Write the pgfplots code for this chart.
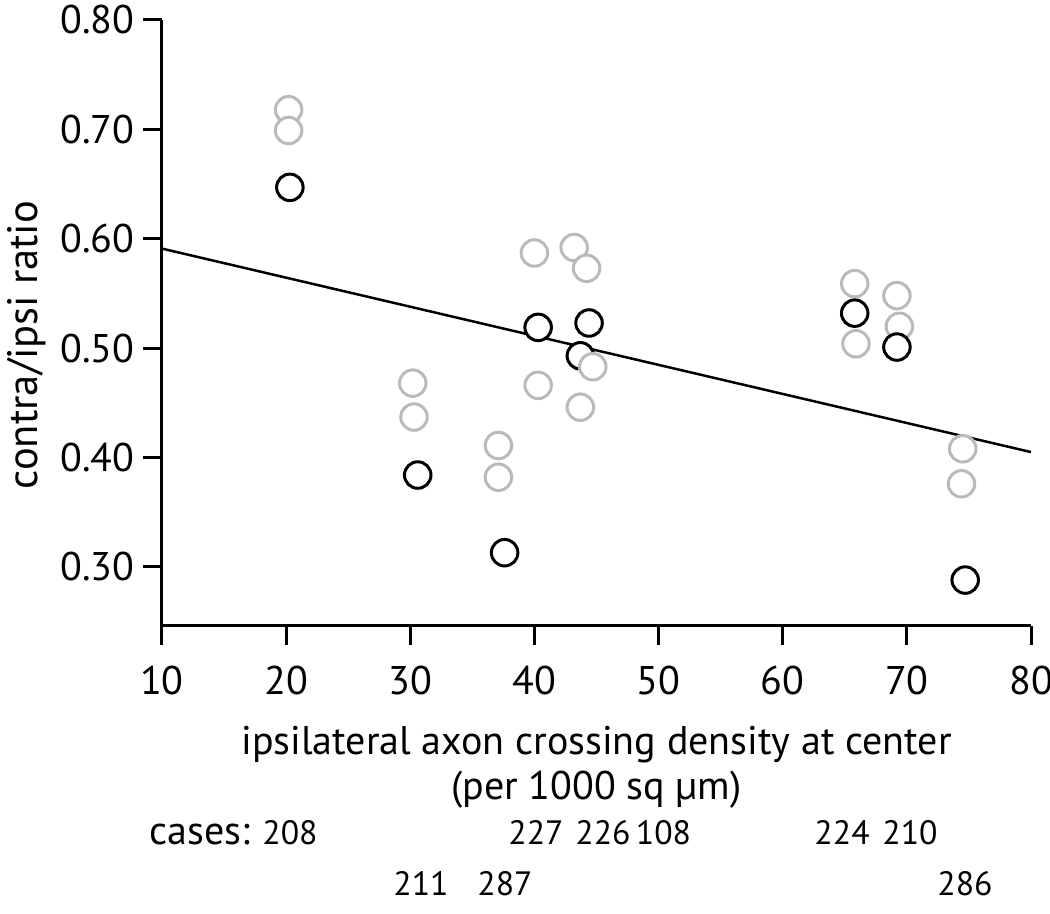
\documentclass[border=0pt]{standalone}
\usepackage{fontspec}
\setmainfont{PT Sans}
\usepackage{pgfplots}
\usepackage{pgfplotstable}
\pgfplotsset{compat=1.18}
\definecolor{lgray}{RGB}{186,186,186}
\pgfplotstableread{
x y
20.3 0.647
30.6 0.384
37.6 0.313
40.3 0.519
43.7 0.493
44.4 0.523
65.8 0.532
69.2 0.501
74.7 0.288
}\blackpts
\pgfplotstableread{
x y
20.2 0.718
20.2 0.699
30.2 0.468
30.3 0.437
37.1 0.411
37.1 0.382
40.0 0.587
40.3 0.466
43.2 0.592
44.2 0.573
43.7 0.446
65.8 0.559
65.9 0.504
69.2 0.548
69.4 0.520
74.5 0.408
74.4 0.376
}\graypts
\pgfplotstableread{
x y
44.7 0.483
}\graytop
\begin{document}
\begin{tikzpicture}
\begin{axis}[
  name=main,
  scale only axis, width=347.6pt, height=242.4pt,
  xmin=10, xmax=80, ymin=0.246, ymax=0.80,
  axis x line*=bottom, axis y line*=left,
  xtick={10,20,30,40,50,60,70,80},
  ytick={0.3,0.4,0.5,0.6,0.7,0.8},
  tick align=outside, major tick length=7.6pt,
  every tick/.style={line width=1.2pt, black},
  axis line style={line width=1.2pt},
  /pgf/number format/assume math mode=true,
  yticklabel style={/pgf/number format/fixed, /pgf/number format/fixed zerofill, /pgf/number format/precision=2},
  tick label style={font=\fontsize{16}{18}\selectfont},
  xticklabel style={yshift=-5pt},
  xlabel={ipsilateral axon crossing density at center\\(per 1000 sq µm)},
  xlabel style={align=center, font=\fontsize{16}{18}\selectfont, at={(axis description cs:0.5,-0.2335)}, anchor=center},
  ylabel={contra/ipsi ratio},
  ylabel style={font=\fontsize{17}{19}\selectfont, at={(axis description cs:-0.1553,0.4637)}, anchor=center},
  clip=false,
]
\addplot[line width=1pt, black] coordinates {(10,0.591) (80,0.405)};
\addplot[only marks, mark=*, mark size=5.3pt, mark options={draw=lgray, fill=white, line width=1.2pt}] table {\graypts};
\addplot[only marks, mark=*, mark size=5.3pt, mark options={draw=black, fill=white, line width=1.2pt}] table {\blackpts};
\addplot[only marks, mark=*, mark size=5.3pt, mark options={draw=lgray, fill=white, line width=1.2pt}] table {\graytop};
\node[font=\fontsize{16}{18}\selectfont, anchor=base] at (axis cs:13.06,0.0466) {cases:};
\begin{scope}[every node/.style={font=\fontsize{13.5}{16}\selectfont, anchor=base}]
\node at (axis cs:20.31,0.0466) {208};
\node at (axis cs:40.13,0.0466) {227};
\node at (axis cs:45.52,0.0466) {226};
\node at (axis cs:50.40,0.0466) {108};
\node at (axis cs:64.78,0.0466) {224};
\node at (axis cs:70.25,0.0466) {210};
\node at (axis cs:30.86,-0.0008) {211};
\node at (axis cs:37.63,-0.0008) {287};
\node at (axis cs:74.68,-0.0008) {286};
\end{scope}
\end{axis}
\pgfresetboundingbox
\path[use as bounding box] (main.south west) ++(-64.8pt,-115.2pt) rectangle ++(420pt,365.6pt);
\end{tikzpicture}
\end{document}
